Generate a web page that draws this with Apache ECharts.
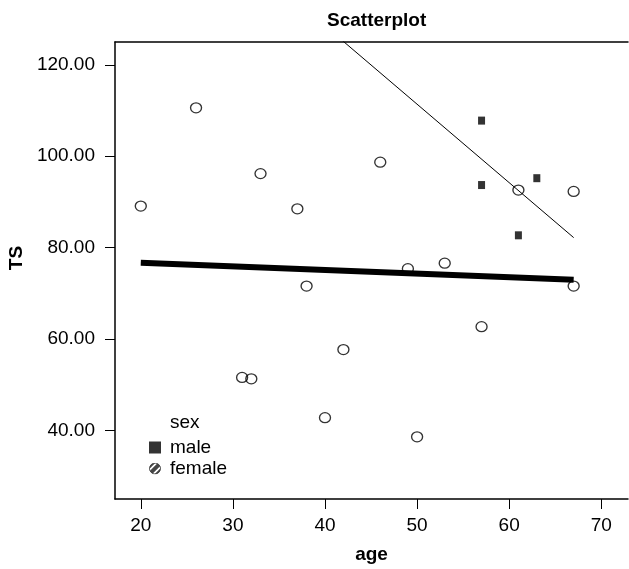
<!DOCTYPE html>
<html>
<head>
<meta charset="utf-8">
<script src="https://cdn.jsdelivr.net/npm/echarts@6/dist/echarts.min.js"></script>
<style>
  html, body { margin: 0; padding: 0; background: #fff; }
  #chart { width: 629px; height: 569px; }
</style>
</head>
<body>
<div id="chart"></div>
<script>
// data
var femaleAge = [20, 26, 31, 32, 33, 37, 38, 40, 42, 46, 49, 50, 53, 57, 61, 67, 67]
var femaleTS = [89.1, 110.6, 51.6, 51.3, 96.2, 88.5, 71.6, 42.8, 57.7, 98.7, 75.4, 38.6, 76.6, 62.7, 92.6, 92.3, 71.6]
var maleAge = [57, 57, 61, 63]
var maleTS = [107.8, 93.7, 82.7, 95.2]

// fit lines (end points)
var totalFitAge = [20, 67]
var totalFitTS = [76.7, 73.0]
var maleFitAge = [20, 67]
var maleFitTS = [162.9, 82.2]

var xTicks = [20, 30, 40, 50, 60, 70]
var yTicks = [40, 60, 80, 100, 120]

function pairs(xs, ys) {
  var res = []
  for (var i = 0; i < xs.length; i++) res.push([xs[i], ys[i]])
  return res
}

var font = '"Liberation Sans", Arial, Helvetica, sans-serif'

var femaleIconSvg = "<svg xmlns='http://www.w3.org/2000/svg' width='24' height='24'>" +
  "<defs><clipPath id='c'><circle cx='12' cy='12' r='11'/></clipPath></defs>" +
  "<g clip-path='url(#c)'><rect width='24' height='24' fill='#1a1a1a'/>" +
  "<path d='M-2 18 L18 -2 M6 26 L26 6' stroke='#fff' stroke-width='3.5'/></g>" +
  "<circle cx='12' cy='12' r='11' fill='none' stroke='#000' stroke-width='1.5'/></svg>"
var femaleIcon = 'image://data:image/svg+xml;charset=utf-8,' + encodeURIComponent(femaleIconSvg)

var chart = echarts.init(document.getElementById('chart'), null, { renderer: 'canvas' })

var axisLineStyle = { color: '#000', width: 1.5 }

chart.setOption({
  animation: false,
  backgroundColor: '#fff',
  textStyle: { fontFamily: font },
  title: {
    text: 'Scatterplot',
    left: 322,
    top: 6,
    textStyle: { fontFamily: font, fontSize: 19, fontWeight: 'bold', color: '#000' }
  },
  grid: { left: 115, top: 42, right: 1, bottom: 64 },
  legend: {
    orient: 'vertical',
    left: 144,
    top: 433,
    itemWidth: 12,
    itemHeight: 12,
    itemGap: 2,
    selectedMode: false,
    textStyle: { fontFamily: font, fontSize: 19, color: '#000', lineHeight: 19, padding: [0, 0, 0, 4] },
    data: [
      { name: 'male', icon: 'rect' },
      { name: 'female', icon: femaleIcon }
    ]
  },
  graphic: [
    {
      type: 'text', left: 170, top: 413,
      style: { text: 'sex', font: '19px ' + font, fill: '#000' }
    },
    {
      type: 'text', x: 17, y: 258, rotation: Math.PI / 2,
      style: { text: 'TS', font: 'bold 19px ' + font, fill: '#000', align: 'center', verticalAlign: 'middle' }
    }
  ],
  xAxis: [
    {
      type: 'value',
      min: 17.2,
      max: 72.9,
      name: 'age',
      nameLocation: 'middle',
      nameGap: 46,
      nameTextStyle: { fontFamily: font, fontSize: 19, fontWeight: 'bold', color: '#000' },
      axisLine: { show: true, onZero: false, lineStyle: axisLineStyle },
      axisTick: { show: true, length: 10, lineStyle: { color: '#000', width: 1 }, customValues: xTicks },
      axisLabel: { fontSize: 19, color: '#000', margin: 17, customValues: xTicks },
      splitLine: { show: false }
    },
    {
      type: 'value',
      position: 'top',
      min: 17.2,
      max: 72.9,
      axisLine: { show: true, onZero: false, lineStyle: axisLineStyle },
      axisTick: { show: false },
      axisLabel: { show: false },
      splitLine: { show: false }
    }
  ],
  yAxis: {
    type: 'value',
    min: 25,
    max: 125,
    axisLine: { show: true, onZero: false, lineStyle: axisLineStyle },
    axisTick: { show: true, length: 10, lineStyle: { color: '#000', width: 1 }, customValues: yTicks },
    axisLabel: {
      fontSize: 19, color: '#000', margin: 20, customValues: yTicks,
      formatter: function (v) { return v.toFixed(2) }
    },
    splitLine: { show: false }
  },
  series: [
    {
      name: 'total fit',
      type: 'line',
      data: pairs(totalFitAge, totalFitTS),
      showSymbol: false,
      symbol: 'none',
      lineStyle: { color: '#000', width: 6 },
      silent: true,
      z: 1
    },
    {
      name: 'male fit',
      type: 'line',
      data: pairs(maleFitAge, maleFitTS),
      showSymbol: false,
      symbol: 'none',
      clip: true,
      lineStyle: { color: '#000', width: 1 },
      silent: true,
      z: 1
    },
    {
      name: 'female',
      type: 'scatter',
      data: pairs(femaleAge, femaleTS),
      symbol: 'circle',
      symbolSize: [11, 10],
      itemStyle: { color: 'rgba(255,255,255,0)', borderColor: '#000', borderWidth: 1.3 },
      z: 3
    },
    {
      name: 'male',
      type: 'scatter',
      data: pairs(maleAge, maleTS),
      symbol: 'rect',
      symbolSize: [7, 8],
      itemStyle: { color: '#000' },
      z: 3
    }
  ]
})
</script>
</body>
</html>
